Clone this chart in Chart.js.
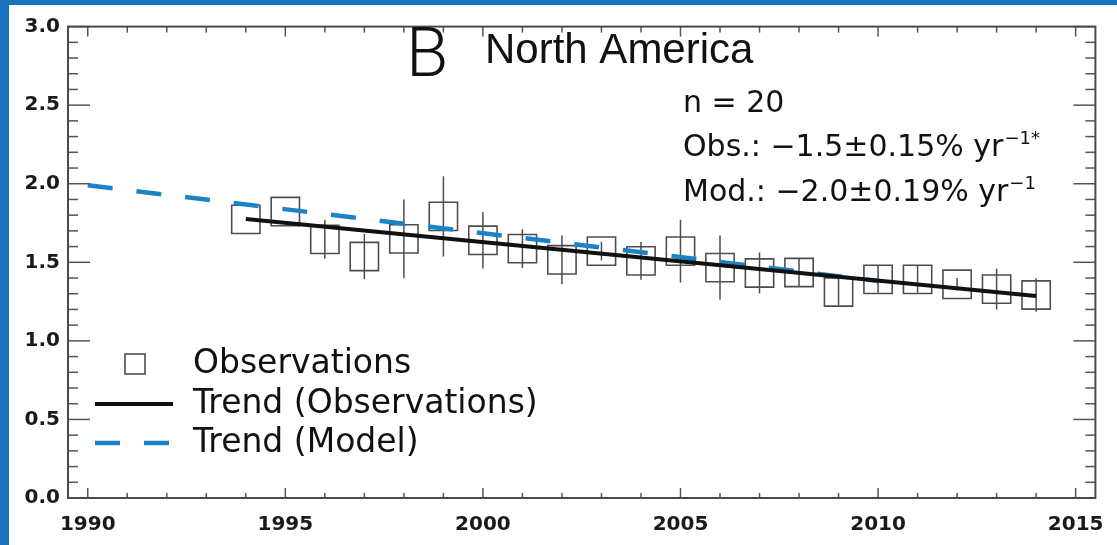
<!DOCTYPE html>
<html><head><meta charset="utf-8">
<script src="https://cdn.jsdelivr.net/npm/chart.js@4.4.1/dist/chart.umd.min.js"></script>
<style>
html,body{margin:0;padding:0;background:#1b72bc;width:1117px;height:545px;overflow:hidden;}
#wrap{position:absolute;left:9px;top:5px;width:1108px;height:540px;background:#fff;}
canvas{display:block;}
</style></head><body>
<div id="wrap"><canvas id="c" width="1108" height="540"></canvas></div>
<script>
// ---- data ----
const years = [1994,1995,1996,1997,1998,1999,2000,2001,2002,2003,2004,2005,2006,2007,2008,2009,2010,2011,2012,2013,2014];
const obsValues = [1.773,1.823,1.646,1.537,1.649,1.792,1.640,1.587,1.516,1.571,1.509,1.571,1.466,1.432,1.435,1.311,1.391,1.391,1.360,1.329,1.292];
const obsErrors = [0.00,0.00,0.124,0.143,0.250,0.255,0.180,0.124,0.155,0.060,0.120,0.200,0.205,0.130,0.087,0.085,0.085,0.085,0.040,0.130,0.106];
const obsTrendYears = [1994, 2014];
const obsTrendValues = [1.776, 1.286];
const modTrendYears = [1990, 2010];
const modTrendValues = [1.99, 1.381];
const xTickValues = [1990,1995,2000,2005,2010,2015];
const xTickLabels = ['1990','1995','2000','2005','2010','2015'];
const yTickValues = [0,0.5,1,1.5,2,2.5,3];
const yTickLabels = ['0.0','0.5','1.0','1.5','2.0','2.5','3.0'];
const xRange = [1989.5, 2015.5];
const yRange = [0, 3];
const panelLetter = 'B';
const titleText = 'North America';
const statN = 'n = 20';
const statObs = ['Obs.: \u22121.5\u00b10.15% yr', '\u22121*'];
const statMod = ['Mod.: \u22122.0\u00b10.19% yr', '\u22121'];
const legendLabels = ['Observations','Trend (Observations)','Trend (Model)'];

const BLUE = '#1a82c6';
const DASH = [25, 24];

// ---- derived datasets ----
const obsPoints = years.map((yr,i)=>({x:yr, y:obsValues[i]}));
const errPoints = [];
years.forEach((yr,i)=>{
  errPoints.push({x:yr, y:obsValues[i]-obsErrors[i]});
  errPoints.push({x:yr, y:obsValues[i]+obsErrors[i]});
  errPoints.push({x:yr, y:null});
});
const obsTrend = obsTrendYears.map((yr,i)=>({x:yr, y:obsTrendValues[i]}));
const modTrend = modTrendYears.map((yr,i)=>({x:yr, y:modTrendValues[i]}));

const decor = {
  id:'decor',
  afterDatasetsDraw(chart){
    const {ctx, chartArea:a, scales:{x, y}} = chart;
    ctx.save();
    const seg=(x1,y1,x2,y2)=>{ctx.beginPath();ctx.moveTo(x1,y1);ctx.lineTo(x2,y2);ctx.stroke();};
    ctx.strokeStyle='#555'; ctx.lineWidth=1.5;
    for(let yr=Math.ceil(x.min); yr<=x.max; yr++){
      const px=x.getPixelForValue(yr);
      const major = yr%5===0;
      seg(px,a.bottom,px,a.bottom-(major?10:5));
      seg(px,a.top,px,a.top+(major?10:6));
    }
    for(let k=Math.round(y.min*10); k<=Math.round(y.max*10); k++){
      const py=y.getPixelForValue(k/10);
      const len = k%5===0?22:10;
      seg(a.left,py,a.left+len,py);
      seg(a.right,py,a.right-len,py);
    }
    ctx.lineWidth=2; ctx.strokeStyle='#4a4a4a';
    ctx.strokeRect(a.left,a.top,a.width,a.height);

    // texts
    ctx.fillStyle='#111';
    ctx.textBaseline='alphabetic'; ctx.textAlign='left';
    ctx.font='300 69px Roboto, "DejaVu Sans", sans-serif';
    ctx.fillText(panelLetter, 397, 71);
    ctx.font='42px "Liberation Sans", Arial, sans-serif';
    ctx.fillText(titleText, 476, 58);
    const drawSup=(parts,x0,yb)=>{
      ctx.font='30px "DejaVu Sans", sans-serif';
      ctx.fillText(parts[0],x0,yb);
      const w=ctx.measureText(parts[0]).width;
      ctx.font='18px "DejaVu Sans", sans-serif';
      ctx.fillText(parts[1],x0+w+1,yb-12);
    };
    ctx.font='30px "DejaVu Sans", sans-serif';
    ctx.fillText(statN, 674, 107);
    drawSup(statObs, 674, 151);
    drawSup(statMod, 674, 196);

    // legend
    const ds=chart.data.datasets;
    ctx.font='33px "DejaVu Sans", sans-serif';
    const lx=184;
    const rows=[368,408,447];
    ctx.fillText(legendLabels[0], lx, rows[0]);
    ctx.fillText(legendLabels[1], lx, rows[1]);
    ctx.fillText(legendLabels[2], lx, rows[2]);
    ctx.strokeStyle=ds[2].borderColor; ctx.lineWidth=ds[2].borderWidth;
    ctx.strokeRect(116,349,20,20);
    ctx.strokeStyle=ds[0].borderColor; ctx.lineWidth=ds[0].borderWidth;
    seg(86,399,164,399);
    ctx.strokeStyle=ds[1].borderColor; ctx.lineWidth=ds[1].borderWidth;
    ctx.setLineDash(ds[1].borderDash);
    seg(86,438,164,438);
    ctx.setLineDash([]);
    ctx.restore();
  }
};

new Chart(document.getElementById('c'), {
  type:'line',
  data:{datasets:[
    {label:legendLabels[1], data:obsTrend, borderColor:'#111', borderWidth:4, pointRadius:0, order:0},
    {label:legendLabels[2], data:modTrend, borderColor:BLUE, borderWidth:4.5, borderDash:DASH, pointRadius:0, order:1},
    {label:legendLabels[0], data:obsPoints, showLine:false, pointStyle:'rect', pointRadius:20, borderColor:'#4d4d4d', borderWidth:1.6, backgroundColor:'rgba(0,0,0,0)', order:2},
    {label:'err', data:errPoints, borderColor:'#4d4d4d', borderWidth:1.5, pointRadius:0, spanGaps:false, order:3}
  ]},
  options:{
    responsive:false, animation:false, devicePixelRatio:1,
    layout:{padding:{top:10,right:19,left:0,bottom:0}},
    plugins:{legend:{display:false}, tooltip:{enabled:false}},
    elements:{line:{tension:0}},
    scales:{
      x:{type:'linear', min:xRange[0], max:xRange[1], offset:false,
        grid:{display:false, drawTicks:false}, border:{display:false},
        afterBuildTicks:(s)=>{s.ticks=xTickValues.map(v=>({value:v}));},
        afterFit:(s)=>{s.height=47; s.paddingLeft=0; s.paddingRight=0;},
        ticks:{padding:15, color:'#1a1a1a', font:{family:'"DejaVu Sans", sans-serif', size:20, weight:'bold'},
          callback:(v)=>{const i=xTickValues.indexOf(v); return i>=0?xTickLabels[i]:'';}}
      },
      y:{type:'linear', min:yRange[0], max:yRange[1],
        grid:{display:false, drawTicks:false}, border:{display:false},
        afterBuildTicks:(s)=>{s.ticks=yTickValues.map(v=>({value:v}));},
        afterFit:(s)=>{s.width=59; s.paddingTop=0; s.paddingBottom=0;},
        ticks:{padding:8, color:'#1a1a1a', font:{family:'"DejaVu Sans", sans-serif', size:20, weight:'bold'},
          callback:(v)=>{const i=yTickValues.indexOf(v); return i>=0?yTickLabels[i]:'';}}
      }
    }
  },
  plugins:[decor]
});
</script>
</body></html>
